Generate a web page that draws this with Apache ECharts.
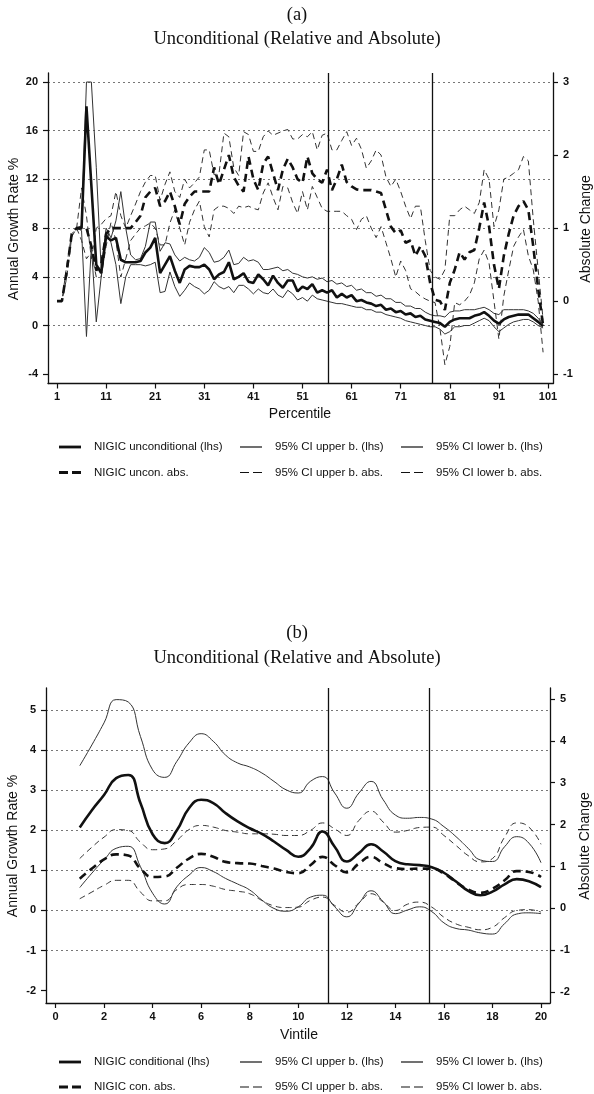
<!DOCTYPE html>
<html><head><meta charset="utf-8">
<script src="https://cdn.jsdelivr.net/npm/echarts@6/dist/echarts.min.js"></script>
<style>html,body{margin:0;padding:0;background:#fff}#c{width:594px;height:1094px}</style>
</head><body><div id="c"></div>
<script>
// ---------- Panel (a): percentiles ----------
const percentiles = [1,2,3,4,5,6,7,8,9,10,11,12,13,14,15,16,17,18,19,20,21,22,23,24,25,26,27,28,29,30,31,32,33,34,35,36,37,38,39,40,41,42,43,44,45,46,47,48,49,50,51,52,53,54,55,56,57,58,59,60,61,62,63,64,65,66,67,68,69,70,71,72,73,74,75,76,77,78,79,80,81,82,83,84,85,86,87,88,89,90,91,92,93,94,95,96,97,98,99,100];
const xTicksA = [1,11,21,31,41,51,61,71,81,91,101];
const yTicksLeftA = [-4,0,4,8,12,16,20];
const yGridA = [0,4,8,12,16,20];
const yTicksRightA = [-1,0,1,2,3];
const vLinesA = [56.2, 77.4];

// relative (lhs, %)
const uncondRel = [null,null,null,null,8.0,8.0,18.0,11.5,5.0,4.3,
 7.3,7.0,7.2,5.4,5.2,5.2,5.2,5.3,6.0,6.4,
 7.2,4.3,5.0,5.7,4.5,3.5,4.6,4.9,4.8,4.8,
 5.0,4.6,3.8,4.2,4.4,5.2,3.8,4.0,4.3,3.6,
 3.5,4.2,3.8,3.3,4.1,3.5,3.1,3.7,3.7,2.8,
 3.2,3.0,3.4,2.7,2.9,2.7,2.9,2.3,2.6,2.3,
 2.5,2.0,2.1,1.9,1.8,1.6,1.7,1.3,1.4,1.1,
 1.2,0.9,1.0,0.7,0.8,0.5,0.4,0.3,0.2,-0.1,
 0.3,0.5,0.6,0.6,0.6,0.8,0.9,1.1,0.8,0.4,
 0.15,0.5,0.7,0.8,0.9,0.9,0.9,0.6,0.3,-0.05];
const uncondRelUpper = [null,null,null,null,8.0,8.2,20.0,20.0,13.0,4.6,
 8.0,7.2,8.6,11.0,8.0,5.8,5.4,5.5,6.5,8.5,
 8.5,6.1,6.8,6.7,5.8,5.3,5.6,5.4,5.3,5.6,
 6.4,6.0,5.2,5.3,5.6,6.2,5.0,5.1,5.6,5.3,
 5.4,5.2,4.6,4.6,4.7,4.8,4.5,4.6,4.3,4.2,
 4.0,3.9,4.0,3.8,3.9,3.6,3.7,3.4,3.5,3.2,
 3.3,2.9,3.0,2.7,2.7,2.4,2.5,2.2,2.2,1.9,
 1.9,1.6,1.6,1.4,1.4,1.1,0.9,0.8,0.8,0.7,
 1.1,1.2,1.2,1.3,1.3,1.3,1.4,1.5,1.3,1.0,
 0.9,1.3,1.3,1.3,1.3,1.3,1.2,1.0,0.6,0.1];
const uncondRelLower = [null,null,null,null,8.0,7.8,-0.9,6.5,0.3,4.0,
 7.6,6.8,5.0,1.8,4.0,5.0,5.0,5.0,4.9,5.0,
 5.2,2.7,2.8,4.4,3.2,2.4,2.9,3.5,3.2,3.0,
 2.6,2.9,3.6,3.2,3.0,3.2,2.7,3.3,3.3,3.0,
 2.6,3.0,2.7,2.6,3.0,2.5,2.3,2.9,2.6,2.1,
 2.3,2.0,2.5,2.2,2.1,2.0,1.9,1.8,1.8,1.7,
 1.6,1.5,1.5,1.3,1.3,1.1,1.1,0.9,0.8,0.7,
 0.6,0.4,0.3,0.2,0.1,0.0,-0.1,-0.1,-0.3,-0.7,
 -0.5,-0.1,-0.1,0.0,0.0,0.2,0.4,0.6,0.4,-0.1,
 -0.5,-0.2,0.1,0.3,0.4,0.5,0.5,0.3,0.0,-0.2];
// absolute (rhs)
const uncondAbs = [0,0,0.42,0.92,1.0,1.0,1.0,0.75,0.42,0.5,
 0.92,1.0,1.0,1.0,1.0,1.0,1.08,1.17,1.42,1.5,
 1.55,1.3,1.37,1.5,1.3,1.05,1.33,1.43,1.5,1.5,
 1.5,1.5,1.83,1.6,1.8,2.0,1.7,1.58,1.5,1.98,
 1.67,1.52,1.88,1.98,1.75,1.52,1.8,1.95,1.83,1.67,
 1.62,1.98,1.75,1.67,1.62,1.8,1.52,1.67,1.87,1.63,
 1.57,1.53,1.52,1.52,1.52,1.5,1.48,1.25,1.02,0.93,
 0.97,0.8,0.83,0.62,0.75,0.62,0.25,0.02,0.0,-0.12,
 0.25,0.43,0.67,0.57,0.67,0.7,1.0,1.35,1.02,0.5,
 0.17,0.62,0.92,1.17,1.3,1.37,1.25,0.75,0.17,-0.33];
const uncondAbsUpper = [0,0,0.5,0.92,1.0,1.55,1.17,0.58,1.0,1.05,
 1.13,1.17,1.5,1.17,1.0,1.17,1.33,1.5,1.63,1.72,
 1.72,1.38,1.6,1.77,1.5,1.42,1.67,1.55,1.62,1.7,
 2.07,2.07,1.73,1.75,2.3,2.25,1.83,1.72,2.32,2.28,
 2.05,2.05,2.25,2.33,2.27,2.3,2.33,2.35,2.22,2.22,
 2.28,2.25,2.32,2.07,2.27,2.3,2.07,2.07,2.2,2.32,
 2.13,2.23,2.08,1.82,1.92,2.07,2.0,1.7,1.57,1.67,
 1.5,1.3,1.13,1.3,1.3,0.83,0.42,0.33,0.3,0.43,
 1.17,1.17,1.25,1.3,1.25,1.2,1.35,1.8,1.67,1.02,
 1.25,1.67,1.7,1.75,1.8,1.98,1.92,1.12,0.43,-0.25];
const uncondAbsLower = [0,0,0.33,0.88,1.0,0.83,0.58,0.67,0.33,0.33,
 0.75,1.08,0.83,0.33,0.58,0.83,0.92,1.0,1.03,1.07,
 1.0,0.77,0.77,1.07,1.25,1.0,0.77,1.08,1.25,1.37,
 1.02,0.88,1.25,1.3,1.3,1.27,1.2,1.3,1.28,1.3,
 1.27,1.25,1.48,1.62,1.42,1.25,1.57,1.55,1.35,1.2,
 1.5,1.25,1.57,1.42,1.27,1.23,1.23,1.23,1.23,1.17,
 1.12,0.98,1.12,1.17,1.0,0.87,1.02,0.8,0.58,0.33,
 0.55,0.42,0.17,0.13,0.07,0.03,0.0,-0.02,-0.38,-0.87,
 -0.62,-0.02,-0.05,0.0,0.08,0.25,0.58,0.7,0.52,0.0,
 -0.52,0.07,0.42,0.75,0.88,0.98,0.62,0.43,0.0,-0.7];

// ---------- Panel (b): vintiles (curve read at half-vintile steps) ----------
const vintiles = [1,1.5,2,2.5,3,3.5,4,4.5,5,5.5,6,6.5,7,7.5,8,8.5,9,9.5,10,10.5,11,11.5,12,12.5,13,13.5,14,14.5,15,15.5,16,16.5,17,17.5,18,18.5,19,19.5,20];
const xTicksB = [0,2,4,6,8,10,12,14,16,18,20];
const yTicksB = [-2,-1,0,1,2,3,4,5];
const yGridB = [-1,0,1,2,3,4,5];
const vLinesB = [11.25, 15.4];
const condRel = [2.07,2.5,2.88,3.3,3.38,2.68,1.9,1.68,2.0,2.55,2.76,2.68,2.43,2.22,2.05,1.91,1.72,1.51,1.34,1.55,1.97,1.59,1.22,1.43,1.65,1.47,1.23,1.15,1.13,1.08,0.94,0.72,0.49,0.38,0.47,0.65,0.78,0.73,0.58];
const condRelUpper = [3.61,4.13,4.68,5.26,5.2,4.34,3.51,3.32,3.72,4.18,4.41,4.22,3.88,3.68,3.58,3.43,3.22,3.01,2.93,3.22,3.34,2.93,2.55,2.93,3.22,2.76,2.38,2.3,2.32,2.28,2.09,1.84,1.55,1.26,1.22,1.59,1.84,1.68,1.19];
const condRelLower = [0.57,0.93,1.26,1.55,1.6,1.09,0.43,0.16,0.59,0.88,1.07,0.97,0.8,0.66,0.51,0.26,0.05,-0.02,0.09,0.33,0.38,0.09,-0.16,0.18,0.49,0.22,-0.08,0.01,0.09,-0.03,-0.31,-0.45,-0.49,-0.56,-0.59,-0.33,-0.09,-0.06,-0.08];
const condAbs = [0.71,0.95,1.17,1.29,1.26,0.95,0.75,0.76,0.97,1.19,1.3,1.23,1.11,1.08,1.07,1.01,0.95,0.87,0.84,1.03,1.23,1.03,0.86,1.07,1.23,1.08,0.96,0.94,0.95,0.95,0.83,0.63,0.45,0.37,0.47,0.67,0.89,0.87,0.75];
const condAbsUpper = [1.19,1.46,1.7,1.88,1.86,1.58,1.4,1.42,1.62,1.88,1.98,1.94,1.86,1.82,1.78,1.78,1.77,1.74,1.74,1.86,2.04,1.9,1.74,2.1,2.32,2.06,1.82,1.86,1.93,1.94,1.74,1.5,1.26,1.11,1.19,1.7,2.04,1.94,1.53];
const condAbsLower = [0.23,0.39,0.55,0.67,0.67,0.39,0.18,0.18,0.45,0.57,0.57,0.53,0.45,0.41,0.35,0.19,0.06,0.02,0.03,0.19,0.27,0.07,-0.09,0.13,0.35,0.15,-0.05,0.1,0.15,0.03,-0.21,-0.37,-0.45,-0.51,-0.45,-0.22,-0.05,-0.03,-0.09];

const SANS = '"Liberation Sans", Arial, sans-serif';
const SERIF = '"Liberation Serif", "Times New Roman", serif';
const INK = '#111';
const THINC = '#333';

function pairs(xs, ys){ return xs.map((x,i)=>[x, ys[i]]); }

function xAx(g, min, max, ticks){
  return {type:'value', gridIndex:g, min:min, max:max, position:'bottom',
    axisLine:{show:true, onZero:false, lineStyle:{color:INK, width:1.3}},
    axisTick:{show:true, customValues:ticks, length:5, lineStyle:{color:INK, width:1.2}},
    axisLabel:{show:true, customValues:ticks, margin:8, color:INK, fontSize:11, fontWeight:'bold', fontFamily:SANS},
    splitLine:{show:false}};
}
function yAx(g, pos, min, max, ticks){
  return {type:'value', gridIndex:g, min:min, max:max, position:pos,
    axisLine:{show:true, onZero:false, lineStyle:{color:INK, width:1.3}},
    axisTick:{show:true, customValues:ticks, length:5, lineStyle:{color:INK, width:1.2}},
    axisLabel:{show:true, customValues:ticks, margin:10, color:INK, fontSize:11, fontWeight:'bold', fontFamily:SANS},
    splitLine:{show:false}};
}
function yGrid(g, min, max, vals){
  return {type:'value', gridIndex:g, min:min, max:max, position:'left',
    axisLine:{show:false}, axisTick:{show:false, customValues:vals}, axisLabel:{show:false, customValues:vals},
    splitLine:{show:true, lineStyle:{color:'#777', width:1, type:[2,3]}}};
}
function line(name, xi, yi, xs, ys, width, color, dash, smooth, vlines){
  const s = {type:'line', name:name, xAxisIndex:xi, yAxisIndex:yi, data:pairs(xs, ys),
    symbol:'none', showSymbol:false, smooth:smooth, connectNulls:false, silent:true,
    lineStyle:{width:width, color:color, type:dash}, itemStyle:{color:color, borderWidth:0}, z:3};
  if (vlines) {
    s.markLine = {silent:true, symbol:['none','none'], label:{show:false}, animation:false,
      lineStyle:{color:INK, width:1.3, type:'solid'}, data: vlines.map(v=>({xAxis:v}))};
  }
  return s;
}
const ICON_SOLID = 'rect';
const ICON_DASH = 'path://M0,0h9v3h-9z M13,0h9v3h-9z';
function leg(name, x, yc, icon, h, color){
  return {show:true, data:[{name:name, icon:icon}], left:x, top:yc-7, padding:0, itemWidth:22, itemHeight:h,
    selectedMode:false, symbolKeepAspect:false,
    itemStyle:{color:color, borderWidth:0, opacity:1},
    textStyle:{fontSize:11.5, color:INK, fontFamily:SANS, padding:[0,0,0,8]}};
}
function txt(s, x, y, size, family, rot){
  return {type:'text', x:x, y:y, rotation:rot||0, silent:true,
    style:{text:s, font: size+'px '+family, fill:INK, align:'center', verticalAlign:'middle', textAlign:'center', textVerticalAlign:'middle'}};
}

const THICK = 2.6, THIN = 1.0;
const DASH_T = [8,5], DASH_N = [6,4];
const LH_THICK = 2.8, LH_THIN = 1.2;

const names = {
  aMain:'NIGIC unconditional (lhs)', up:'95% CI upper b. (lhs)', lo:'95% CI lower b. (lhs)',
  aAbs:'NIGIC uncon. abs.', upA:'95% CI upper b. abs.', loA:'95% CI lower b. abs.',
  bMain:'NIGIC conditional (lhs)', bAbs:'NIGIC con. abs.'
};

const option = {
  animation:false,
  backgroundColor:'#fff',
  grid:[
    {left:48, top:73, width:505, height:310.5, containLabel:false},
    {left:46, top:688, width:504, height:315, containLabel:false}
  ],
  xAxis:[ xAx(0, -0.833, 102.02, xTicksA), xAx(1, -0.39, 20.37, xTicksB) ],
  yAxis:[
    yAx(0, 'left', -4.76, 20.74, yTicksLeftA),
    yAx(0, 'right', -1.127, 3.123, yTicksRightA),
    yAx(1, 'left', -2.31, 5.55, yTicksB),
    yAx(1, 'right', -2.258, 5.26, yTicksB),
    yGrid(0, -4.76, 20.74, yGridA),
    yGrid(1, -2.31, 5.55, yGridB)
  ],
  legend:[
    leg(names.aMain, 59, 448, ICON_SOLID, LH_THICK, INK), leg(names.up, 240, 448, ICON_SOLID, LH_THIN, INK), leg(names.lo, 401, 448, ICON_SOLID, LH_THIN, INK),
    leg(names.aAbs, 59, 473.5, ICON_DASH, LH_THICK, INK), leg(names.upA, 240, 473.5, ICON_DASH, LH_THIN, INK), leg(names.loA, 401, 473.5, ICON_DASH, LH_THIN, INK),
    leg(names.bMain, 59, 1063, ICON_SOLID, LH_THICK, INK), leg(names.up, 240, 1063, ICON_SOLID, LH_THIN, INK), leg(names.lo, 401, 1063, ICON_SOLID, LH_THIN, INK),
    leg(names.bAbs, 59, 1088, ICON_DASH, LH_THICK, INK), leg(names.upA, 240, 1088, ICON_DASH, LH_THIN, INK), leg(names.loA, 401, 1088, ICON_DASH, LH_THIN, INK)
  ],
  series:[
    line(names.up, 0, 0, percentiles, uncondRelUpper, THIN, THINC, 'solid', false, vLinesA),
    line(names.lo, 0, 0, percentiles, uncondRelLower, THIN, THINC, 'solid', false),
    line(names.upA, 0, 1, percentiles, uncondAbsUpper, THIN, THINC, DASH_N, false),
    line(names.loA, 0, 1, percentiles, uncondAbsLower, THIN, THINC, DASH_N, false),
    line(names.aAbs, 0, 1, percentiles, uncondAbs, THICK, INK, DASH_T, false),
    line(names.aMain, 0, 0, percentiles, uncondRel, THICK, INK, 'solid', false),

    line(names.up, 1, 2, vintiles, condRelUpper, THIN, THINC, 'solid', 0.5, vLinesB),
    line(names.lo, 1, 2, vintiles, condRelLower, THIN, THINC, 'solid', 0.5),
    line(names.upA, 1, 3, vintiles, condAbsUpper, THIN, THINC, DASH_N, 0.5),
    line(names.loA, 1, 3, vintiles, condAbsLower, THIN, THINC, DASH_N, 0.5),
    line(names.bAbs, 1, 3, vintiles, condAbs, THICK, INK, DASH_T, 0.5),
    line(names.bMain, 1, 2, vintiles, condRel, THICK, INK, 'solid', 0.5)
  ],
  graphic:[
    txt('(a)', 297, 15, 18.5, SERIF),
    txt('Unconditional (Relative and Absolute)', 297, 39, 18.5, SERIF),
    txt('Annual Growth Rate %', 14, 229, 14, SANS, Math.PI/2),
    txt('Absolute Change', 586, 229, 14, SANS, Math.PI/2),
    txt('Percentile', 300, 414, 14, SANS),
    txt('(b)', 297, 633, 18.5, SERIF),
    txt('Unconditional (Relative and Absolute)', 297, 658, 18.5, SERIF),
    txt('Annual Growth Rate %', 13, 846, 14, SANS, Math.PI/2),
    txt('Absolute Change', 585, 846, 14, SANS, Math.PI/2),
    txt('Vintile', 299, 1035, 14, SANS)
  ]
};
const chart = echarts.init(document.getElementById('c'), null, {renderer:'canvas', width:594, height:1094});
chart.setOption(option);
</script></body></html>
